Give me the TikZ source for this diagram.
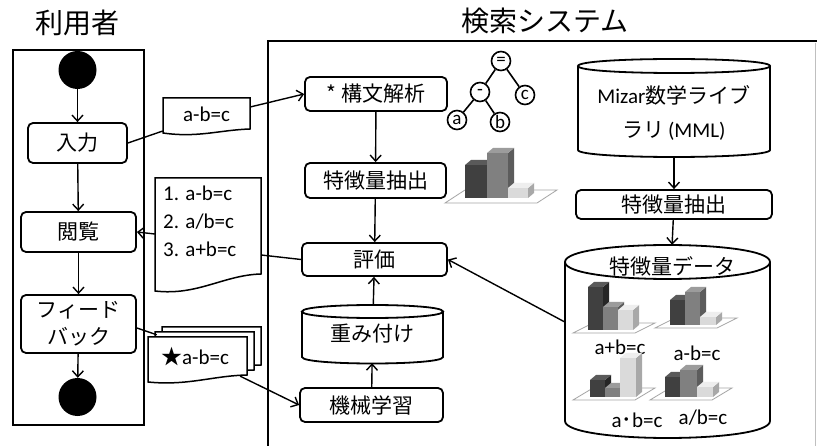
\documentclass[tikz,border=0pt]{standalone}
\usepackage{fontspec}
\setmainfont{Carlito}
\newfontfamily\jp{Noto Sans CJK JP}
\usetikzlibrary{arrows.meta}
\definecolor{darkf}{HTML}{404040}
\definecolor{darks}{HTML}{262626}
\definecolor{darkt}{HTML}{5A5A5A}
\definecolor{midf}{HTML}{808080}
\definecolor{mids}{HTML}{5C5C5C}
\definecolor{midt}{HTML}{9C9C9C}
\definecolor{ltf}{HTML}{DADADA}
\definecolor{lts}{HTML}{A8A8A8}
\definecolor{ltt}{HTML}{EEEEEE}
\newcommand{\tdbar}[7]{%
  \fill[#5] (#1,#2) rectangle (#3,#4);
  \fill[#6] (#3,#2) -- ++(6,-5) -- ({#3+6},{#4-5}) -- (#3,#4) -- cycle;
  \fill[#7] (#1,#4) -- ++(6,-5) -- ({#3+6},{#4-5}) -- (#3,#4) -- cycle;
}
\newcommand{\tdfloor}[5]{%
  \draw[floorst] (#1,#2) -- ++(#3,0) -- ++(#4,#5) -- ++(-#3,0) -- cycle;
}
\newcommand{\docshape}[6]{% x0 y0 x1 yleftbottom yrightbottom dip
  \draw[docst] (#1,#2) -- (#3,#2) -- (#3,#5)
    .. controls ({#3-0.35*(#3-#1)},{#5+0.2*#6}) and ({#1+0.4*(#3-#1)},{#4+#6}) .. (#1,#4) -- cycle;
}
\newcommand{\cylshape}[5]{% x0 x1 ytop ybot ry
  \fill[white] (#1,#3) .. controls (#1,{#3-1.333*#5}) and (#2,{#3-1.333*#5}) .. (#2,#3)
     -- (#2,#4) .. controls (#2,{#4+1.333*#5}) and (#1,{#4+1.333*#5}) .. (#1,#4) -- cycle;
  \draw[cylst] (#1,#3) -- (#1,#4) .. controls (#1,{#4+1.333*#5}) and (#2,{#4+1.333*#5}) .. (#2,#4) -- (#2,#3);
  \draw[cylst] (#1,#3) .. controls (#1,{#3-1.333*#5}) and (#2,{#3-1.333*#5}) .. (#2,#3)
     .. controls (#2,{#3+1.333*#5}) and (#1,{#3+1.333*#5}) .. (#1,#3) -- cycle;
}
\tikzset{
  box/.style={draw, line width=1.8pt, rounded corners=5pt, fill=white, inner sep=0pt,
    font=\jp\fontsize{21}{25}\selectfont, align=center},
  conn/.style={line width=1.4pt},
  arr/.style={conn, -{Straight Barb[length=6pt,width=11pt,line width=1.4pt]}},
  tnode/.style={draw, circle, line width=1.6pt, minimum size=19pt, inner sep=0pt, fill=white,
    font=\fontsize{19}{19}\selectfont},
  lbl/.style={font=\fontsize{21}{28}\selectfont, inner sep=0pt},
  jlbl/.style={font=\jp\fontsize{21}{25}\selectfont, inner sep=0pt},
  title/.style={font=\jp\fontsize{28}{30}\selectfont, inner sep=0pt},
  docst/.style={draw, line width=1.5pt, fill=white},
  cylst/.style={line width=1.8pt},
  floorst/.style={draw=black!35, line width=0.8pt, fill=white},
  dot/.style={circle, fill=black, minimum size=38pt, inner sep=0pt},
  area/.style={inner sep=0pt},
}
\begin{document}
\begin{tikzpicture}[x=1pt,y=-1pt]
\useasboundingbox (0,0) rectangle (817,446);
\fill[white] (0,0) rectangle (817,446);

% titles
\node[title] (t1) at (77,23) {利用者};
\node[title] (t2) at (545,21) {検索システム};

% frames
\draw[line width=2pt] (13,50) rectangle (144,425);
\draw[line width=2.5pt] (268,446) -- (268,41) -- (817,41);
\draw[black!25, line width=1pt] (815.5,43) -- (815.5,446);

% user lane
\node[dot] (sc) at (77.5,70) {};
\node[box, minimum width=99pt, minimum height=40pt] (in) at (77.5,143) {入力};
\node[box, minimum width=115pt, minimum height=40pt] (br) at (78.5,232) {閲覧};
\node[box, minimum width=115pt, minimum height=58pt, font=\jp\fontsize{21}{27}\selectfont] (fb) at (78.5,324) {フィード\\バック};
\node[dot] (ec) at (77.5,397) {};
\draw[arr] (sc) -- (in);
\draw[arr] (in) -- (br);
\draw[arr] (br) -- (fb);
\draw[arr] (fb) -- (ec);

% documents
\docshape{163}{98}{250}{133}{129}{5}
\node[area, minimum width=87pt, minimum height=36pt] (doc1) at (206.5,116) {};
\node[lbl] (doc1t) at (206.5,114) {a-b=c};

\docshape{155}{178}{261}{291}{274}{5}
\node[area, minimum width=106pt, minimum height=112pt] (doc2) at (208,234) {};
\node[lbl, align=left, anchor=north west] (doc2t) at (163,186) {1. a-b=c\\2. a/b=c\\3. a+b=c};

\docshape{162}{327}{261}{371}{365}{4}
\docshape{155}{332}{254}{377}{370}{4}
\docshape{148}{337}{247}{382}{375}{4}
\node[area, minimum width=99pt, minimum height=45pt] (fbdoc) at (197.5,359.5) {};
\node[lbl] (fbdoct) at (195,357) {{\jp ★}a-b=c};

% system boxes
\node[box, minimum width=142pt, minimum height=34pt] (kb) at (376,94) {* 構文解析};
\node[box, minimum width=141pt, minimum height=35pt] (fe1) at (375.5,180.5) {特徴量抽出};
\node[box, minimum width=145pt, minimum height=33pt] (ev) at (374.5,259.5) {評価};
\cylshape{302}{443}{311.5}{357}{6.5}
\node[area, minimum width=141pt, minimum height=58pt, font=\jp\fontsize{21}{25}\selectfont] (wt) at (372.5,334) {重み付け};
\node[box, minimum width=143pt, minimum height=34pt] (ml) at (371.5,405) {機械学習};

\draw[arr] (kb) -- (fe1);
\draw[arr] (fe1) -- (ev);
\draw[arr] (ml) -- (wt);
\draw[arr] (wt) -- (ev);

% tree
\node[tnode] (eq) at (501,61) {=};
\node[tnode] (mi) at (480,92) {-};
\node[tnode] (cc) at (525,95) {c};
\node[tnode] (aa) at (457,120) {a};
\node[tnode] (bb) at (500,122) {b};
\draw[line width=1.6pt] (eq) -- (mi);
\draw[line width=1.6pt] (eq) -- (cc);
\draw[line width=1.6pt] (mi) -- (aa);
\draw[line width=1.6pt] (mi) -- (bb);

% chart near feature extraction
\tdfloor{445}{203}{92}{20}{-13}
\tdbar{465}{198}{487}{165}{darkf}{darks}{darkt}
\tdbar{487}{198}{508}{153}{midf}{mids}{midt}
\tdbar{508}{198}{528}{188}{ltf}{lts}{ltt}

% right side
\cylshape{578}{770}{66}{150}{7}
\node[area, minimum width=192pt, minimum height=99pt] (mml) at (674,107.5) {};
\node[font=\fontsize{21}{34}\selectfont, align=center, inner sep=0pt] (mmlt) at (674,113) {Mizar{\jp 数学ライブ}\\{\jp ラリ}\,(MML)};
\node[box, minimum width=196pt, minimum height=29pt] (fe2) at (674,204.5) {特徴量抽出};
\cylshape{565}{770}{262}{421}{17}
\node[area, minimum width=205pt, minimum height=192pt] (fd) at (667.5,341) {};
\node[jlbl] (fdt) at (672,266) {特徴量データ};
\draw[arr] (mml) -- (fe2);
\draw[arr] (fe2) -- (fd);
\draw[arr] ([yshift=19pt]fd.west) -- (ev.east);

% charts inside
\tdfloor{573}{333}{62}{20}{-10}
\tdbar{588}{330}{603}{287}{darkf}{darks}{darkt}
\tdbar{603}{330}{618}{307}{midf}{mids}{midt}
\tdbar{618}{330}{633}{310}{ltf}{lts}{ltt}
\node[lbl] (l1) at (620,347) {a+b=c};

\tdfloor{655}{328}{62}{20}{-10}
\tdbar{670}{325}{685}{300}{darkf}{darks}{darkt}
\tdbar{685}{325}{700}{292}{midf}{mids}{midt}
\tdbar{700}{325}{716}{317}{ltf}{lts}{ltt}
\node[lbl] (l2) at (697,353) {a-b=c};

\tdfloor{573}{400}{62}{20}{-12}
\tdbar{590}{397}{605}{380}{darkf}{darks}{darkt}
\tdbar{605}{397}{620}{388}{midf}{mids}{midt}
\tdbar{620}{397}{636}{358}{ltf}{lts}{ltt}
\node[lbl] (l3) at (637,420) {a{\jp ･}b=c};

\tdfloor{650}{400}{62}{20}{-12}
\tdbar{665}{397}{680}{377}{darkf}{darks}{darkt}
\tdbar{680}{397}{697}{370}{midf}{mids}{midt}
\tdbar{697}{397}{713}{387}{ltf}{lts}{ltt}
\node[lbl] (l4) at (703,418) {a/b=c};

% connectors between lanes
\draw[conn] (in.east) -- ([yshift=-15pt]doc1.west);
\draw[arr] ([yshift=9pt]doc1.east) -- (kb.west);
\draw[conn] (ev.west) -- ([yshift=-21pt]doc2.east);
\draw[arr] (doc2.west) -- (br.east);
\draw[conn] ([yshift=-4pt]fb.east) -- ([xshift=9pt,yshift=2pt]fbdoc.north west);
\draw[arr] ([xshift=-7pt,yshift=6pt]fbdoc.south east) -- (ml.west);
\end{tikzpicture}
\end{document}
